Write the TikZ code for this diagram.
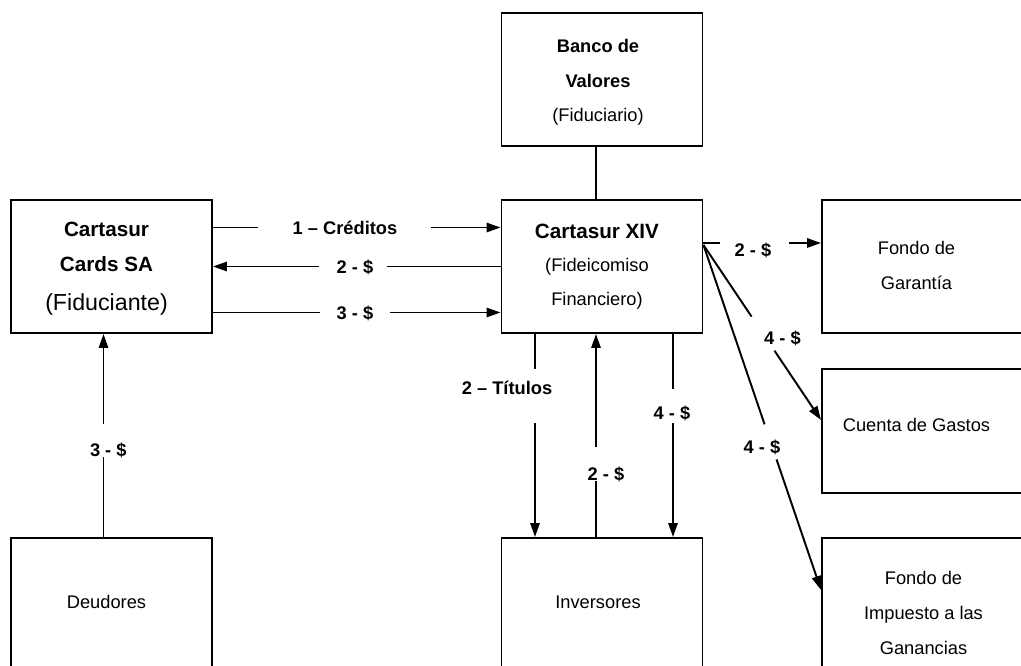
\documentclass[tikz,border=0pt]{standalone}
\usepackage{fontspec}
\setmainfont{Liberation Sans}
\usetikzlibrary{arrows.meta,calc}
\begin{document}
\begin{tikzpicture}[x=0.75pt,y=-0.75pt,
  box/.style={draw, line width=1.45pt, rectangle, minimum width=150.75pt, minimum height=99.75pt, inner sep=0pt},
  boxtext/.style={align=center, inner sep=0pt, font=\fontsize{13.7}{26}\selectfont},
  conn/.style={line width=1.45pt},
  arr/.style={conn, -{Triangle[length=10.5pt,width=7pt]}},
  lbl/.style={font=\bfseries\fontsize{13.7}{16}\selectfont, inner sep=0pt, text height=9.9pt, text depth=0pt}]
\useasboundingbox (0,0) rectangle (1021,666);
\clip (0,0) rectangle (1021,666);
\fill[white] (0,0) rectangle (1021,666);

% boxes
\node[box] (banco) at (602,79.5) {};
\node[box] (cx) at (602,266.5) {};
\node[box] (cc) at (111.5,266.5) {};
\node[box] (fg) at (922.5,266.5) {};
\node[box, minimum height=93pt] (cg) at (922.5,431) {};
\node[box, minimum height=112.5pt] (fi) at (922.5,613) {};
\node[box] (de) at (111.5,604.5) {};
\node[box] (inv) at (602,604.5) {};

% box texts
\node[boxtext, font=\fontsize{13.7}{26}\selectfont] (bancot) at ($(banco)+(-4,3)$) {\textbf{Banco de}\\\textbf{Valores}\\(Fiduciario)};
\node[boxtext, font=\fontsize{13.7}{25}\selectfont] (cxt) at ($(cx)+(-5,0)$) {{\fontsize{15.5}{25}\selectfont\bfseries Cartasur XIV}\\(Fideicomiso\\Financiero)};
\node[boxtext, font=\fontsize{15.5}{26.7}\selectfont] (cct) at ($(cc)+(-5,2)$) {\textbf{Cartasur}\\\textbf{Cards SA}\\[2pt]{\fontsize{17.4}{26.7}\selectfont(Fiduciante)}};
\node[boxtext] (fgt) at ($(fg)+(-6,-1)$) {Fondo de\\Garantía};
\node[boxtext] (cgt) at ($(cg)+(-6,-6)$) {Cuenta de Gastos};
\node[boxtext] (fit) at ($(fi)+(1,0)$) {Fondo de\\Impuesto a las\\Ganancias};
\node[boxtext] (det) at ($(de)+(-5,-2.5)$) {Deudores};
\node[boxtext] (invt) at ($(inv)+(-4,-2.5)$) {Inversores};

% connectors
\draw[arr, dash pattern=on 33.75pt off 129.75pt on 1000pt off 1pt] ($(cc.east)+(0,-39)$) -- ($(cx.west)+(0,-39)$);
\draw[arr, dash pattern=on 85.5pt off 51pt on 1000pt off 1pt] (cx.west) -- (cc.east);
\draw[arr, dash pattern=on 80.25pt off 52.5pt on 1000pt off 1pt] ($(cc.east)+(0,46)$) -- ($(cx.west)+(0,46)$);
\draw[arr, dash pattern=on 12.75pt off 51.75pt on 1000pt off 1pt] ($(cx.east)+(0,-23.5)$) -- ($(fg.west)+(0,-23.5)$);
\draw[arr, dash pattern=on 64.7pt off 30.8pt on 1000pt off 1pt] ($(cx.east)+(0,-21.5)$) -- ($(cg.west)+(0,-11)$);
\draw[arr, dash pattern=on 142.1pt off 27.8pt on 1000pt off 1pt] ($(cx.east)+(0,-21.5)$) -- ($(fi.west)+(0,-23)$);
\draw[arr, dash pattern=on 26.25pt off 40.5pt on 1000pt off 1pt] ($(cx.south)+(-67,0)$) -- ($(inv.north)+(-67,0)$);
\draw[arr, dash pattern=on 42pt off 25.5pt on 1000pt off 1pt] ($(inv.north)+(-6,0)$) -- ($(cx.south)+(-6,0)$);
\draw[arr, dash pattern=on 41.25pt off 25.5pt on 1000pt off 1pt] ($(cx.south)+(71,0)$) -- ($(inv.north)+(71,0)$);
\draw[arr, dash pattern=on 60pt off 24.75pt on 1000pt off 1pt] ($(de.north)+(-8,0)$) -- ($(cc.south)+(-8,0)$);
\draw[conn] ($(banco.south)+(-6,0)$) -- ($(cx.north)+(-6,0)$);

% labels
\node[lbl] (l1) at (345,227.7) {1 – Créditos};
\node[lbl] (l2) at (355,267) {2 - \$};
\node[lbl] (l3) at (355,312.7) {3 - \$};
\node[lbl] (l4) at (753,250) {2 - \$};
\node[lbl] (l5) at (782.5,338) {4 - \$};
\node[lbl] (l6) at (762,447) {4 - \$};
\node[lbl] (l7) at (507,388) {2 – Títulos};
\node[lbl] (l8) at (606,474) {2 - \$};
\node[lbl] (l9) at (672,413) {4 - \$};
\node[lbl] (l10) at (108.3,450) {3 - \$};
\end{tikzpicture}
\end{document}
